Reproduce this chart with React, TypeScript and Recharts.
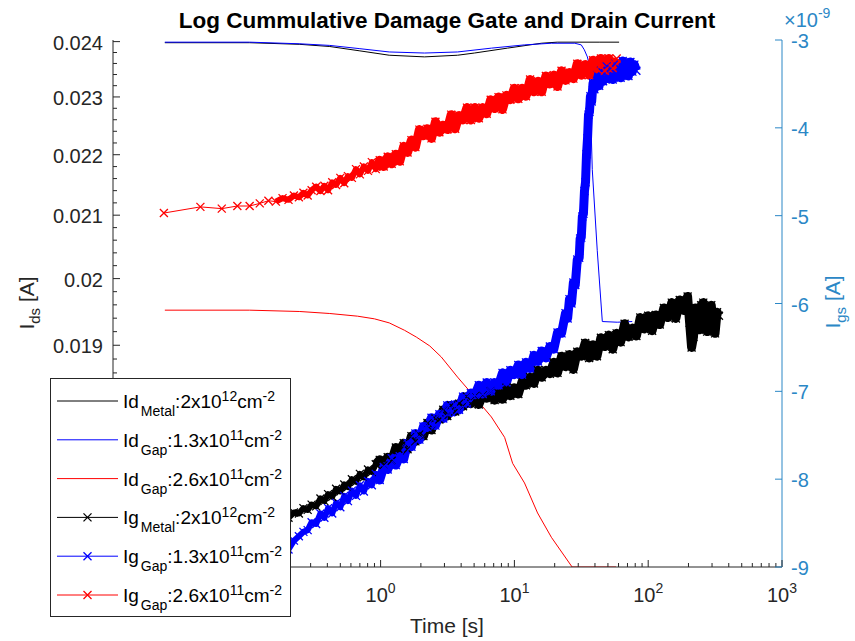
import React from "react";
import { LineChart, Line, XAxis, YAxis } from "recharts";

const FONT = '"Liberation Sans", Arial, Helvetica, sans-serif';
const AXIS_COLOR = "#262626";
const RIGHT_COLOR = "#2b87c6";

// drain current Ids [A] vs time [s], left (log) axis
const idMetal: [number, number][] = [
  [0.0244, 0.02398], [0.105, 0.02398], [0.249, 0.02395], [0.417, 0.02391], [0.7, 0.02383],
  [1.16, 0.02375], [2.13, 0.02372], [3.76, 0.02375], [5.02, 0.02379], [8.87, 0.02388],
  [15.9, 0.02397], [20.9, 0.02399], [43, 0.02399], [60.6, 0.02399],
];
const idGapLow: [number, number][] = [
  [0.0244, 0.02399], [0.105, 0.02399], [0.249, 0.02396], [0.417, 0.02393], [0.7, 0.02387],
  [1.16, 0.02381], [2.13, 0.02379], [3.76, 0.02381], [6.73, 0.02388], [11.9, 0.02394],
  [18.9, 0.02397], [28.3, 0.02397], [31.6, 0.02394], [33.3, 0.02385], [35.1, 0.02372],
  [36.3, 0.02357], [38.2, 0.02175], [41.6, 0.02044], [45.4, 0.01935], [58.7, 0.01934], [76.0, 0.01935],
];
const idGapHigh: [number, number][] = [
  [0.0244, 0.01952], [0.105, 0.01952], [0.249, 0.0195], [0.417, 0.01947], [0.673, 0.01943],
  [0.9, 0.01939], [1.16, 0.01933], [1.51, 0.01922], [1.85, 0.01912], [2.33, 0.01899],
  [2.84, 0.01883], [3.76, 0.01854], [4.78, 0.01831], [6.73, 0.01798], [8.45, 0.0177],
  [9.7, 0.01735], [11.9, 0.01709], [14.9, 0.0167], [18.9, 0.01639], [27.0, 0.01602], [57.5, 0.01602],
];

// gate current Igs [x1e-9 A] vs time [s], right axis
const igMetal: [number, number][] = [
  [0.024, -8.8], [0.045, -8.76], [0.065, -8.69], [0.085, -8.67], [0.105, -8.59], [0.125, -8.58],
  [0.145, -8.52], [0.165, -8.51], [0.185, -8.45], [0.205, -8.44], [0.225, -8.38], [0.245, -8.39],
  [0.265, -8.33], [0.285, -8.35], [0.305, -8.29], [0.33, -8.31], [0.355, -8.22], [0.38, -8.25],
  [0.405, -8.17], [0.435, -8.2], [0.465, -8.11], [0.5, -8.14], [0.535, -8.06], [0.57, -8.09],
  [0.61, -8.0], [0.655, -8.03], [0.7, -7.94], [0.75, -7.98], [0.805, -7.89], [0.86, -7.92],
  [0.92, -7.83], [0.985, -7.78], [1.055, -7.84], [1.13, -7.75], [1.21, -7.79], [1.3, -7.64],
  [1.39, -7.67], [1.49, -7.59], [1.59, -7.66], [1.7, -7.51], [1.82, -7.57], [1.95, -7.49],
  [2.09, -7.51], [2.24, -7.36], [2.4, -7.44], [2.57, -7.31], [2.75, -7.32], [2.94, -7.21],
  [3.15, -7.28], [3.37, -7.16], [3.61, -7.23], [3.86, -7.14], [4.13, -7.17], [4.42, -7.06],
  [4.73, -7.14], [5.07, -7.05], [5.42, -7.15], [5.8, -7.04], [6.21, -7.08], [6.65, -7.0],
  [7.11, -7.1], [7.61, -7.02], [8.15, -7.09], [8.72, -6.96], [9.33, -7.05], [9.98, -6.96],
  [10.7, -7.03], [11.4, -6.89], [12.2, -6.93], [13.1, -6.84], [14.0, -6.91], [15.0, -6.76],
  [16.0, -6.84], [17.2, -6.76], [18.4, -6.8], [19.7, -6.67], [21.0, -6.79], [22.5, -6.6],
  [24.1, -6.72], [25.8, -6.58], [27.6, -6.75], [29.5, -6.55], [31.6, -6.6], [33.8, -6.45],
  [36.2, -6.62], [38.7, -6.47], [41.4, -6.6], [44.3, -6.39], [47.4, -6.49], [50.8, -6.36],
  [54.3, -6.52], [58.1, -6.34], [62.2, -6.44], [66.6, -6.23], [71.2, -6.38], [76.2, -6.28],
  [81.6, -6.37], [87.3, -6.16], [93.4, -6.29], [99.9, -6.14], [107, -6.31], [114, -6.13],
  [122, -6.24], [131, -6.05], [140, -6.16], [150, -5.99], [161, -6.17], [172, -5.96],
  [184, -6.08], [191, -6.0], [197, -5.92], [204, -6.22], [211, -6.5], [218, -6.38],
  [225, -6.05], [233, -6.2], [241, -6.3], [249, -6.02], [258, -5.99], [267, -6.24],
  [276, -6.32], [286, -6.06], [296, -6.02], [306, -6.26], [316, -6.34], [327, -6.1], [338, -6.14],
];
const igGapLow: [number, number][] = [
  [0.024, -9.75], [0.045, -9.62], [0.065, -9.48], [0.085, -9.41], [0.105, -9.28], [0.125, -9.23],
  [0.145, -9.11], [0.165, -9.04], [0.185, -8.91], [0.205, -8.8], [0.225, -8.7], [0.245, -8.65],
  [0.265, -8.6], [0.285, -8.58], [0.305, -8.49], [0.33, -8.51], [0.355, -8.39], [0.38, -8.44],
  [0.405, -8.33], [0.435, -8.39], [0.465, -8.27], [0.5, -8.32], [0.535, -8.19], [0.57, -8.25],
  [0.61, -8.13], [0.655, -8.19], [0.7, -8.07], [0.75, -8.14], [0.805, -8.02], [0.86, -8.07],
  [0.92, -7.94], [0.985, -8.01], [1.055, -7.86], [1.13, -7.89], [1.21, -7.76], [1.3, -7.84],
  [1.39, -7.74], [1.49, -7.77], [1.59, -7.59], [1.7, -7.63], [1.82, -7.48], [1.95, -7.55],
  [2.09, -7.4], [2.24, -7.41], [2.4, -7.3], [2.57, -7.39], [2.75, -7.26], [2.94, -7.31],
  [3.15, -7.16], [3.37, -7.24], [3.61, -7.15], [3.86, -7.21], [4.13, -7.06], [4.42, -7.14],
  [4.73, -7.02], [5.07, -7.04], [5.42, -6.93], [5.8, -7.03], [6.21, -6.9], [6.65, -7.0],
  [7.11, -6.9], [7.61, -6.93], [8.15, -6.79], [8.72, -6.9], [9.33, -6.76], [9.98, -6.81],
  [10.7, -6.7], [11.4, -6.81], [12.2, -6.67], [13.1, -6.74], [14.0, -6.59], [15.0, -6.66],
  [16.0, -6.54], [17.2, -6.62], [18.4, -6.49], [19.7, -6.52], [21.0, -6.33], [22.5, -6.34],
  [24.1, -6.11], [25.0, -6.17], [25.8, -5.95], [26.7, -6.0], [27.6, -5.76], [28.5, -5.79],
  [29.5, -5.5], [30.5, -5.48], [31.0, -5.26], [31.6, -5.25], [32.2, -5.01], [32.8, -4.98],
  [33.4, -4.72], [34.0, -4.62], [34.6, -4.3], [35.2, -4.12], [35.8, -3.85], [36.4, -3.82],
  [37.0, -3.64], [37.8, -3.7], [38.7, -3.49], [39.6, -3.56], [41.4, -3.4], [43.0, -3.52],
  [44.3, -3.35], [46.0, -3.47], [47.4, -3.38], [49.0, -3.3], [50.8, -3.44], [52.5, -3.33],
  [54.3, -3.45], [56.2, -3.27], [58.1, -3.39], [60.0, -3.31], [62.2, -3.43], [64.4, -3.24],
  [66.6, -3.37], [68.9, -3.29], [71.2, -3.41], [73.6, -3.25], [76.2, -3.36], [78.8, -3.28],
  [81.6, -3.35],
];
const igGapHigh: [number, number][] = [
  [0.024, -4.97], [0.045, -4.9], [0.065, -4.92], [0.085, -4.89], [0.105, -4.89], [0.125, -4.86],
  [0.145, -4.83], [0.165, -4.84], [0.185, -4.8], [0.205, -4.82], [0.225, -4.77], [0.245, -4.79],
  [0.265, -4.74], [0.285, -4.77], [0.305, -4.71], [0.33, -4.67], [0.355, -4.72], [0.38, -4.66],
  [0.405, -4.71], [0.435, -4.62], [0.465, -4.65], [0.5, -4.57], [0.535, -4.63], [0.57, -4.55],
  [0.61, -4.57], [0.655, -4.47], [0.7, -4.53], [0.75, -4.44], [0.805, -4.49], [0.86, -4.39],
  [0.92, -4.47], [0.985, -4.37], [1.055, -4.44], [1.13, -4.33], [1.21, -4.41], [1.3, -4.3],
  [1.39, -4.38], [1.49, -4.21], [1.59, -4.28], [1.7, -4.14], [1.82, -4.22], [1.95, -4.02],
  [2.09, -4.09], [2.24, -4.01], [2.4, -4.12], [2.57, -3.93], [2.75, -4.05], [2.94, -3.97],
  [3.15, -4.02], [3.37, -3.85], [3.61, -4.01], [3.86, -3.86], [4.13, -3.91], [4.42, -3.77],
  [4.73, -3.91], [5.07, -3.77], [5.42, -3.89], [5.8, -3.77], [6.21, -3.84], [6.65, -3.68],
  [7.11, -3.78], [7.61, -3.65], [8.15, -3.79], [8.72, -3.63], [9.33, -3.68], [9.98, -3.55],
  [10.7, -3.67], [11.4, -3.55], [12.2, -3.64], [13.1, -3.45], [14.0, -3.59], [15.0, -3.47],
  [16.0, -3.59], [17.2, -3.41], [18.4, -3.5], [19.7, -3.4], [21.0, -3.53], [22.5, -3.35],
  [24.1, -3.46], [25.8, -3.37], [27.6, -3.44], [29.5, -3.27], [31.6, -3.4], [33.8, -3.28],
  [36.2, -3.4], [38.7, -3.23], [41.4, -3.33], [44.3, -3.21], [47.4, -3.35], [50.8, -3.21],
  [54.3, -3.32], [58.1, -3.21],
];

// axes
const xDecades = [0.01, 0.1, 1, 10, 100];
const xSteps = [1, 2, 3, 4, 5, 6, 7, 8, 9];
const xTicks = [...xDecades.flatMap((d) => xSteps.map((m) => d * m)), 1000];
const leftTicks: number[] = [];
for (let k = 81; k <= 120; k++) leftTicks.push(k * 0.0002); // 0.0162 .. 0.024
const rightTicks = [-9, -8, -7, -6, -5, -4, -3];

// legend
const legendNames = ["Id", "Id", "Id", "Ig", "Ig", "Ig"];
const legendSubs = ["Metal", "Gap", "Gap", "Metal", "Gap", "Gap"];
const legendDoses = ["2", "1.3", "2.6", "2", "1.3", "2.6"];
const legendExps = ["12", "11", "11", "12", "11", "11"];
const seriesColors = ["#000000", "#0000ff", "#ff0000", "#000000", "#0000ff", "#ff0000"];

const pts = (a: [number, number][]) => a.map(([t, v]) => ({ t, v }));
const span = (a: [number, number][], from: number, to: number) => pts(a).filter((d) => d.t >= from && d.t <= to);

const crossDot = (color: string) => (p: any) => {
  const { cx, cy, index } = p;
  if (cx == null || cy == null) return <g key={index} />;
  const s = 4;
  return (
    <path
      key={index}
      d={`M${cx - s},${cy - s}L${cx + s},${cy + s}M${cx - s},${cy + s}L${cx + s},${cy - s}`}
      stroke={color}
      strokeWidth={1.3}
      fill="none"
    />
  );
};

const isDecade = (v: number) => Math.abs(Math.log10(v) - Math.round(Math.log10(v))) < 1e-6;

const BottomTick = (p: any) => {
  const { x, y, payload } = p;
  const v = payload.value as number;
  const major = isDecade(v);
  // labels below 10^0 sit behind the legend box
  return (
    <g>
      <line x1={x} x2={x} y1={y} y2={y - (major ? 7 : 4)} stroke={AXIS_COLOR} />
      {major && v >= 1 && (
        <text x={x} y={y + 35} textAnchor="middle" fontFamily={FONT} fontSize={20} fill={AXIS_COLOR}>
          10<tspan dy={-9} fontSize={14}>{Math.round(Math.log10(v))}</tspan>
        </text>
      )}
    </g>
  );
};

const TopTick = (p: any) => {
  const { x, y, payload } = p;
  const major = isDecade(payload.value);
  return <line x1={x} x2={x} y1={y} y2={y + (major ? 7 : 4)} stroke={AXIS_COLOR} />;
};

const LeftTick = (p: any) => {
  const { x, y, payload } = p;
  const v = payload.value as number;
  const major = Math.abs(v * 1000 - Math.round(v * 1000)) < 1e-6;
  return (
    <g>
      <line x1={x} x2={x + (major ? 7 : 4)} y1={y} y2={y} stroke={AXIS_COLOR} />
      {major && (
        <text x={x - 10} y={y + 8} textAnchor="end" fontFamily={FONT} fontSize={20} fill={AXIS_COLOR}>
          {Math.round(v * 1000) / 1000}
        </text>
      )}
    </g>
  );
};

const RightTick = (p: any) => {
  const { x, y, payload } = p;
  return (
    <g>
      <line x1={x} x2={x - 7} y1={y} y2={y} stroke={RIGHT_COLOR} />
      <text x={x + 9} y={y + 8} textAnchor="start" fontFamily={FONT} fontSize={20} fill={RIGHT_COLOR}>
        {payload.value}
      </text>
    </g>
  );
};

export default function App() {
  const common = {
    xAxisId: "bottom",
    dataKey: "v",
    type: "linear" as const,
    activeDot: false,
    isAnimationActive: false,
  };
  // dense sampling merges the x markers into a solid band
  const thin = { strokeWidth: 6, strokeLinejoin: "round" as const, dot: false };
  const thick = { strokeWidth: 9, strokeLinejoin: "round" as const, dot: false };
  return (
    <div style={{ position: "absolute", left: 0, top: 0, width: 855, height: 641, background: "#fff" }}>
      <LineChart width={855} height={641} margin={{ top: 40, right: 0, bottom: 0, left: 0 }}>
        <XAxis
          xAxisId="bottom"
          type="number"
          dataKey="t"
          scale="log"
          domain={[0.01, 1000]}
          allowDataOverflow
          ticks={xTicks}
          interval={0}
          tick={BottomTick}
          tickLine={false}
          tickSize={0}
          tickMargin={0}
          height={74}
          axisLine={{ stroke: AXIS_COLOR }}
        />
        <XAxis
          xAxisId="top"
          orientation="top"
          type="number"
          dataKey="t"
          scale="log"
          domain={[0.01, 1000]}
          allowDataOverflow
          ticks={xTicks}
          interval={0}
          tick={TopTick}
          tickLine={false}
          tickSize={0}
          tickMargin={0}
          height={0}
          axisLine={{ stroke: AXIS_COLOR }}
        />
        <YAxis
          yAxisId="left"
          type="number"
          scale="log"
          domain={[0.01602, 0.02403]}
          allowDataOverflow
          ticks={leftTicks}
          interval={0}
          tick={LeftTick}
          tickLine={false}
          tickSize={0}
          tickMargin={0}
          width={113}
          axisLine={{ stroke: AXIS_COLOR }}
        />
        <YAxis
          yAxisId="right"
          orientation="right"
          type="number"
          domain={[-9, -3]}
          allowDataOverflow
          ticks={rightTicks}
          interval={0}
          tick={RightTick}
          tickLine={false}
          tickSize={0}
          tickMargin={0}
          width={73}
          axisLine={{ stroke: RIGHT_COLOR }}
        />

        <Line {...common} yAxisId="left" data={pts(idMetal)} stroke={seriesColors[0]} strokeWidth={1} dot={false} />
        <Line {...common} yAxisId="left" data={pts(idGapLow)} stroke={seriesColors[1]} strokeWidth={1} dot={false} />
        <Line {...common} yAxisId="left" data={pts(idGapHigh)} stroke={seriesColors[2]} strokeWidth={1} dot={false} />

        <Line {...common} {...thin} yAxisId="right" data={span(igMetal, 0.2, 1)} stroke={seriesColors[3]} />
        <Line {...common} {...thick} yAxisId="right" data={span(igMetal, 0.9, 1000)} stroke={seriesColors[3]} />
        <Line {...common} yAxisId="right" data={pts(igMetal)} stroke={seriesColors[3]} strokeWidth={1} dot={crossDot(seriesColors[3])} />
        <Line {...common} {...thin} yAxisId="right" data={span(igGapLow, 0.2, 1)} stroke={seriesColors[4]} />
        <Line {...common} {...thick} yAxisId="right" data={span(igGapLow, 0.9, 1000)} stroke={seriesColors[4]} />
        <Line {...common} yAxisId="right" data={pts(igGapLow)} stroke={seriesColors[4]} strokeWidth={1} dot={crossDot(seriesColors[4])} />
        <Line {...common} {...thin} yAxisId="right" data={span(igGapHigh, 0.15, 1)} stroke={seriesColors[5]} />
        <Line {...common} {...thick} yAxisId="right" data={span(igGapHigh, 0.9, 1000)} stroke={seriesColors[5]} />
        <Line {...common} yAxisId="right" data={pts(igGapHigh)} stroke={seriesColors[5]} strokeWidth={1} dot={crossDot(seriesColors[5])} />
      </LineChart>

      <svg width={855} height={641} style={{ position: "absolute", left: 0, top: 0 }} fontFamily={FONT}>
        <text x={447} y={27.5} textAnchor="middle" fontSize={22.5} fontWeight="bold" fill="#000">
          Log Cummulative Damage Gate and Drain Current
        </text>
        <text x={784} y={27} fontSize={20} fill={RIGHT_COLOR}>
          ×10<tspan dy={-9} fontSize={14}>-9</tspan>
        </text>
        <text x={447} y={633} textAnchor="middle" fontSize={21} fill={AXIS_COLOR}>
          Time [s]
        </text>
        <text transform="translate(34,303) rotate(-90)" textAnchor="middle" fontSize={21} fill={AXIS_COLOR}>
          I<tspan dy={6} fontSize={15}>ds</tspan>
          <tspan dy={-6}> [A]</tspan>
        </text>
        <text transform="translate(840,302) rotate(-90)" textAnchor="middle" fontSize={21} fill={RIGHT_COLOR}>
          I<tspan dy={6} fontSize={15}>gs</tspan>
          <tspan dy={-6}> [A]</tspan>
        </text>

        <rect x={50.5} y={378.5} width={240} height={238} fill="#fff" stroke={AXIS_COLOR} />
        {legendNames.map((name, i) => {
          const ry = 401 + i * 38.8;
          const c = seriesColors[i];
          return (
            <g key={i}>
              <line x1={57} x2={118} y1={ry} y2={ry} stroke={c} strokeWidth={1} />
              {i >= 3 && crossDot(c)({ cx: 87.5, cy: ry, index: `m${i}` })}
              <text x={123} y={ry + 7} fontSize={19} fill="#000">
                {name}
                <tspan dx={2} dy={8} fontSize={14}>{legendSubs[i]}</tspan>
                <tspan dy={-8}>:{legendDoses[i]}x10</tspan>
                <tspan dy={-7} fontSize={14}>{legendExps[i]}</tspan>
                <tspan dy={7}>cm</tspan>
                <tspan dy={-7} fontSize={14}>-2</tspan>
              </text>
            </g>
          );
        })}
      </svg>
    </div>
  );
}
